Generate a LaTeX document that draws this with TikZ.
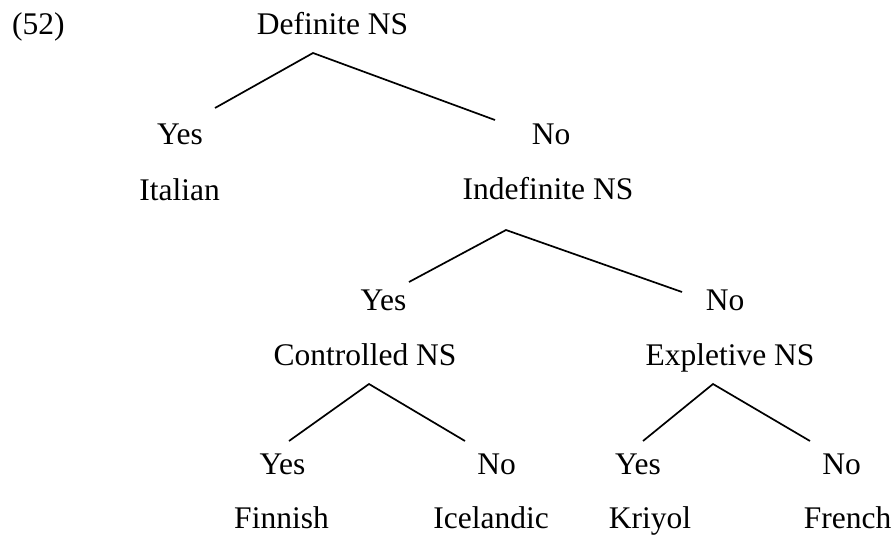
\documentclass[tikz,border=0pt]{standalone}
\usepackage{fontspec}
\setmainfont{Liberation Serif}
\begin{document}
\begin{tikzpicture}[x=1pt,y=-1pt,
  lbl/.style={anchor=base,inner sep=0pt,font=\fontsize{31.5}{37}\selectfont,text=black},
  branch/.style={line width=1.7pt,draw=black}]
\useasboundingbox (0,0) rectangle (894,536);
\node[lbl,anchor=base west] (num) at (12,34) {(52)};
\node[lbl] (def) at (332.5,34) {Definite NS};
\node[lbl] (y1) at (180,144) {Yes};
\node[lbl] (n1) at (551,144) {No};
\node[lbl] (ita) at (179.5,200) {Italian};
\node[lbl] (ind) at (548,199) {Indefinite NS};
\node[lbl] (y2) at (383.5,310) {Yes};
\node[lbl] (n2) at (725,310) {No};
\node[lbl] (con) at (365,365) {Controlled NS};
\node[lbl] (exp) at (730,365) {Expletive NS};
\node[lbl] (y3) at (282.5,474) {Yes};
\node[lbl] (n3) at (496.5,474) {No};
\node[lbl] (fin) at (281.5,528) {Finnish};
\node[lbl] (ice) at (491,528) {Icelandic};
\node[lbl] (y4) at (638,474) {Yes};
\node[lbl] (n4) at (841.5,474) {No};
\node[lbl] (kri) at (650,528) {Kriyol};
\node[lbl] (fre) at (847.5,528) {French};
% branch points
\coordinate (a1) at (313,53);
\coordinate (l1) at (215,108);
\coordinate (r1) at (495,120);
\coordinate (a2) at (506,230);
\coordinate (l2) at (409,282);
\coordinate (r2) at (682,292);
\coordinate (a3) at (369,384);
\coordinate (l3) at (289,441);
\coordinate (r3) at (465,441);
\coordinate (a4) at (713,384);
\coordinate (l4) at (643,441);
\coordinate (r4) at (810,441);
\draw[branch] (l1) -- (a1) -- (r1);
\draw[branch] (l2) -- (a2) -- (r2);
\draw[branch] (l3) -- (a3) -- (r3);
\draw[branch] (l4) -- (a4) -- (r4);
\end{tikzpicture}
\end{document}
